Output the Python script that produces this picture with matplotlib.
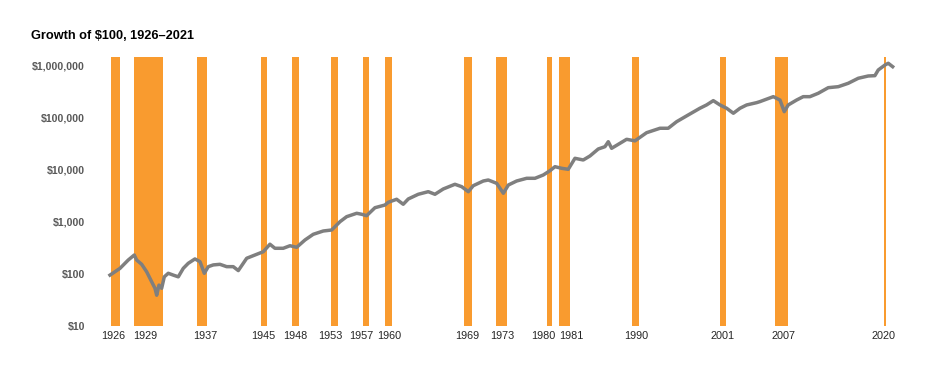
import matplotlib
matplotlib.use("Agg")
import matplotlib.pyplot as plt
from matplotlib.ticker import FixedLocator, FuncFormatter

# ---- data ----
years = [1926.00, 1927.23, 1928.24, 1928.98, 1929.27, 1929.89, 1930.50, 1931.11, 1931.52,
         1931.73, 1932.01, 1932.34, 1932.66, 1933.15, 1933.76, 1934.38, 1934.99, 1935.60,
         1936.42, 1937.04, 1937.57, 1938.06, 1938.67, 1939.49, 1940.31, 1941.12, 1941.74,
         1942.77, 1943.78, 1944.80, 1945.62, 1946.23, 1947.25, 1948.08, 1948.90, 1949.92,
         1950.93, 1952.16, 1953.19, 1954.21, 1955.03, 1956.26, 1956.87, 1957.48, 1958.50,
         1959.73, 1960.13, 1961.16, 1961.97, 1962.59, 1963.81, 1965.04, 1965.86, 1966.88,
         1968.31, 1969.14, 1969.95, 1970.56, 1971.79, 1972.40, 1973.43, 1974.25, 1974.86,
         1975.88, 1977.11, 1978.13, 1979.14, 1979.97, 1980.58, 1981.40, 1982.21, 1983.03,
         1984.05, 1984.87, 1985.89, 1986.71, 1987.12, 1987.53, 1988.55, 1989.37, 1990.39,
         1991.82, 1993.46, 1994.47, 1995.50, 1996.92, 1998.35, 1999.17, 2000.00, 2000.82,
         2001.64, 2002.46, 2003.27, 2004.09, 2005.32, 2005.72, 2007.36, 2008.18, 2008.70,
         2009.19, 2010.22, 2011.03, 2011.85, 2012.87, 2014.10, 2015.33, 2016.55, 2017.78,
         2019.00, 2019.82, 2020.23, 2021.06, 2021.46, 2022.00]
growth = [95, 128, 185, 231, 185, 153, 110, 71, 53,
          39, 61, 53, 88, 103, 95, 88, 128, 160,
          194, 172, 103, 138, 149, 153, 138, 138, 116,
          200, 231, 267, 372, 311, 311, 348, 325, 449,
          577, 668, 698, 1007, 1259, 1462, 1400, 1315, 1871,
          2108, 2377, 2716, 2178, 2754, 3388, 3802, 3388, 4285,
          5272, 4743, 3802, 4955, 6095, 6370, 5508, 3540, 5105,
          6095, 6871, 6871, 7943, 9616, 11482, 10690, 10224, 16634,
          15446, 18427, 25119, 27800, 34674, 25880, 32280, 38550, 36000,
          51640, 62800, 62800, 83950, 113000, 152000, 176000, 213000, 176000,
          152000, 122000, 152000, 176000, 195000, 204000, 254000, 219000, 131000,
          176000, 219000, 254000, 254000, 295000, 378000, 395000, 459000, 573000,
          634000, 643000, 826000, 1031000, 1112000, 957000]

recession_labels = ['1926', '1929', '1937', '1945', '1948', '1953', '1957', '1960',
                    '1969', '1973', '1980', '1981', '1990', '2001', '2007', '2020']
label_positions = [1926.40, 1930.29, 1937.74, 1944.80, 1948.69, 1953.02, 1956.87, 1960.31,
                   1969.82, 1974.08, 1979.19, 1982.54, 1990.49, 2001.09, 2008.57, 2020.85]
recession_start = [1926.09, 1928.94, 1936.71, 1944.48, 1948.32, 1953.07, 1957.07, 1959.73,
                   1969.42, 1973.38, 1979.56, 1981.11, 1990.06, 2000.82, 2007.57, 2020.90]
recession_end = [1927.23, 1932.54, 1937.86, 1945.22, 1949.22, 1953.93, 1957.77, 1960.59,
                 1970.40, 1974.73, 1980.18, 1982.42, 1990.88, 2001.52, 2009.12, 2021.14]

y_ticks = [10, 100, 1_000, 10_000, 100_000, 1_000_000]
title = "Growth of $100, 1926\u20132021"

# ---- figure ----
W, H = 936, 381
fig = plt.figure(figsize=(W / 100, H / 100), dpi=100)
ax = fig.add_axes([105 / W, (H - 326) / H, 795 / W, 269 / H])

for s, e in zip(recession_start, recession_end):
    ax.axvspan(s, e, color="#F99B2F", lw=0, zorder=1)

ax.plot(years, growth, color="#7F7F7F", lw=2.5, solid_joinstyle="round", zorder=3)

ax.set_yscale("log")
ax.set_ylim(10, 1.468e6)
ax.set_xlim(1925.39, 2022.90)

ax.yaxis.set_major_locator(FixedLocator(y_ticks))
ax.yaxis.set_minor_locator(FixedLocator([]))
ax.yaxis.set_major_formatter(FuncFormatter(lambda v, p: f"${v:,.0f}"))
ax.set_xticks(label_positions)
ax.set_xticklabels(recession_labels)

for lab in ax.get_yticklabels():
    lab.set_fontfamily("Liberation Sans")
    lab.set_fontweight("bold")
    lab.set_fontsize(7.6)
    lab.set_color("#595959")
for lab in ax.get_xticklabels():
    lab.set_fontfamily("Liberation Sans")
    lab.set_fontsize(7.8)
    lab.set_color("#262626")

ax.tick_params(axis="y", length=0, pad=14.5)
ax.tick_params(axis="x", length=0, pad=3.5)
for sp in ax.spines.values():
    sp.set_visible(False)

fig.text(31 / W, (H - 39.3) / H, title, family="Liberation Sans", weight="bold",
         fontsize=9.2, color="black", va="baseline", ha="left")

fig.savefig("out.png", dpi=100)
